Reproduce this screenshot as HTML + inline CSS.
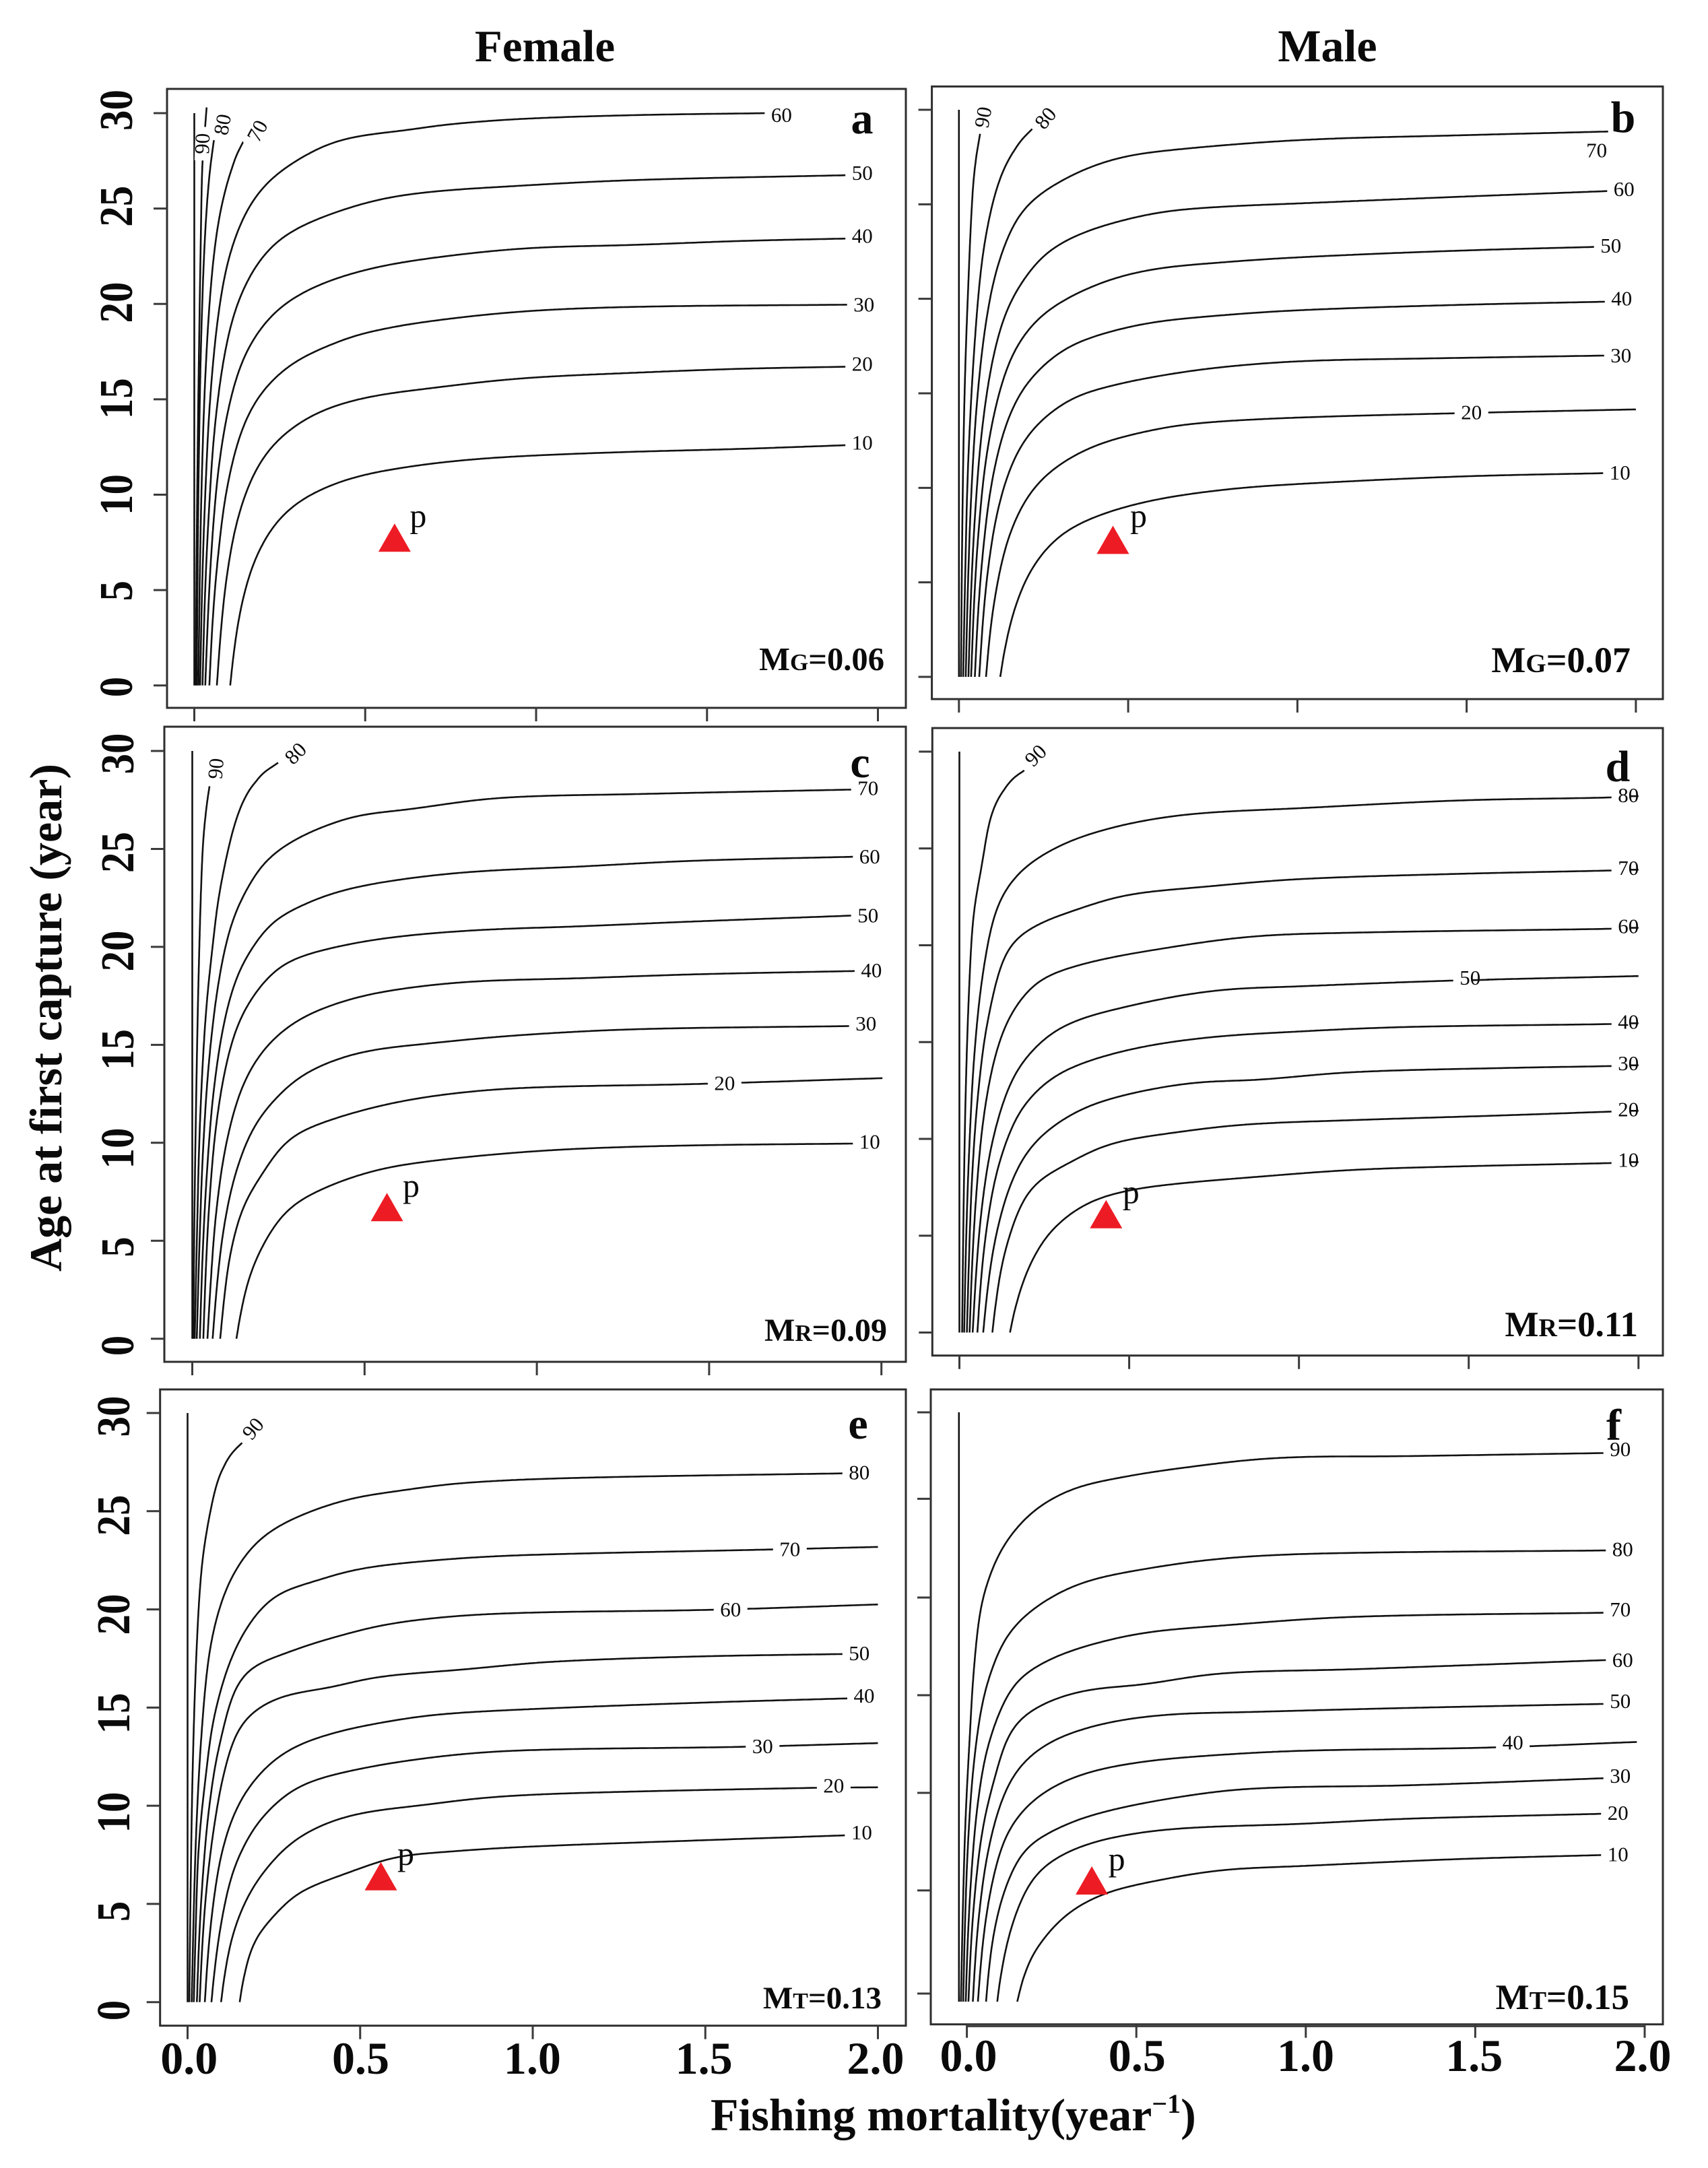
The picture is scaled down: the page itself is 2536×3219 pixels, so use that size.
<!DOCTYPE html>
<html lang="en">
<head>
<meta charset="utf-8">
<title>Yield contours by fishing mortality and age at first capture</title>
<style>
html,body{margin:0;padding:0;background:#fff;}
svg{display:block;}
text{font-family:"Liberation Serif",serif;fill:#0a0a0a;}
</style>
</head>
<body>
<svg id="chart" xmlns="http://www.w3.org/2000/svg" width="2536" height="3219" viewBox="0 0 2536 3219">
<rect x="0" y="0" width="2536" height="3219" fill="#fff"/>
<text x="809" y="91" font-size="67" font-weight="700" text-anchor="middle">Female</text>
<text x="1971" y="91" font-size="68" font-weight="700" text-anchor="middle">Male</text>
<text transform="translate(91,1511) rotate(-90)" font-size="68" font-weight="700" text-anchor="middle">Age at first capture (year)</text>
<text x="1055" y="3163" font-size="68" font-weight="700">Fishing mortality(year<tspan font-size="40" dy="-26">−1</tspan><tspan dy="26">)</tspan></text>
</svg>
<script>
/* ---------- shared axis values ---------- */
const xTickValues=[0,0.5,1,1.5,2];
const xTickLabels=["0.0","0.5","1.0","1.5","2.0"];
const yTickValues=[0,5,10,15,20,25,30];
const yTickLabels=["0","5","10","15","20","25","30"];
const fYTickValues=[0.41,5.66,10.63,15.6,20.57,25.6,30];
const contourLevels=[100,90,80,70,60,50,40,30,20,10];
const edgeLine=[[0,0],[0,30]];

/* ---------- panel a ---------- */
const a90=[[.004,0],[.0072,7.65],[.0116,14.85],[.0195,24],[.024,27.65],[.03,28.9],[.036,30.3]];
const a80=[[.007,0],[.0096,6.1],[.0133,11.9],[.0198,18],[.0308,23.4],[.0454,27],[.066,29.6]];
const a70=[[.012,0],[.016,5.6],[.022,10.9],[.033,16.5],[.051,21.45],[.075,24.75],[.114,27.4],[.143,28.5]];
const a60=[[.017,0],[.023,5.2],[.032,10],[.047,15.2],[.073,19.8],[.107,22.8],[.163,25.2],[.237,26.75],[.38,28.3],[.482,28.8],[.618,29.1],[.737,29.4],[.958,29.7],[1.297,29.9],[1.674,30]];
const a50=[[.024,0],[.031,4.6],[.042,8.9],[.06,13.55],[.091,17.6],[.132,20.3],[.2,22.5],[.288,23.85],[.482,25.2],[.652,25.8],[.958,26.2],[1.3,26.5],[1.917,26.75]];
const a40=[[.032,0],[.041,4],[.053,7.8],[.074,11.8],[.11,15.3],[.158,17.7],[.237,19.6],[.34,20.8],[.482,21.7],[.652,22.3],[.958,22.9],[1.3,23.1],[1.6,23.3],[1.917,23.43]];
const a30=[[.044,0],[.054,3.5],[.069,6.7],[.094,10.2],[.137,13.3],[.194,15.3],[.288,16.9],[.411,17.95],[.482,18.4],[.652,19],[.958,19.6],[1.3,19.85],[1.917,19.96]];
const a20=[[.066,0],[.078,2.9],[.094,5.6],[.124,8.55],[.174,11.1],[.24,12.8],[.349,14.2],[.491,15.05],[.7,15.6],[.96,16.1],[1.3,16.4],[1.6,16.6],[1.917,16.71]];
const a10=[[.105,0],[.119,2.21],[.139,4.29],[.175,6.5],[.235,8.45],[.315,9.75],[.447,10.8],[.618,11.44],[.85,11.9],[1.2,12.2],[1.6,12.4],[1.917,12.6]];
const aCurves=[edgeLine,a90,a80,a70,a60,a50,a40,a30,a20,a10];
const aLabels=[["90",.024,28.4],["80",.083,29.4],["70",.185,29.06],["60",1.718,29.9],["50",1.954,26.85],["40",1.954,23.55],["30",1.959,19.96],["20",1.954,16.84],["10",1.954,12.72]];
const aMarker=[.586,7.5];

/* ---------- panel b ---------- */
const b90=[[.006,0],[.01,8],[.016,14.5],[.026,20],[.044,26.55],[.063,28.8]];
const b80=[[.0125,0],[.019,5.8],[.027,11.2],[.044,17],[.068,22],[.099,25.05],[.13,26.8],[.17,28.1],[.22,29.05]];
const b70=[[.02,0],[.027,5.05],[.037,9.85],[.055,14.9],[.085,19.35],[.125,22.35],[.193,24.8],[.318,26.4],[.46,27.4],[.616,27.85],[1.009,28.4],[1.48,28.65],[1.918,28.85]];
const b60=[[.028,0],[.036,4.5],[.048,8.7],[.069,13.2],[.104,17.15],[.151,19.8],[.228,21.9],[.287,22.8],[.397,23.7],[.585,24.55],[.758,24.85],[1.009,25.05],[1.48,25.4],[1.918,25.7]];
const b50=[[.036,0],[.045,4],[.058,7.7],[.081,11.65],[.12,15.1],[.171,17.5],[.256,19.3],[.413,20.8],[.569,21.55],[.758,21.9],[1.009,22.2],[1.48,22.55],[1.887,22.75]];
const b40=[[.047,0],[.057,3.5],[.072,6.8],[.097,10.3],[.14,13.4],[.197,15.45],[.291,17.1],[.38,17.9],[.554,18.7],[.758,19.1],[1.009,19.4],[1.48,19.68],[1.918,19.85]];
const b30=[[.06,0],[.071,3],[.087,5.85],[.115,8.85],[.162,11.5],[.225,13.25],[.33,14.7],[.428,15.3],[.569,15.85],[.758,16.35],[1.009,16.7],[1.4,16.85],[1.918,17]];
const b20=[[.08,0],[.093,2.5],[.112,4.8],[.145,7.3],[.201,9.5],[.275,10.95],[.397,12.2],[.556,13],[.695,13.4],[.977,13.7],[1.48,13.95],[2,14.15]];
const b10=[[.122,0],[.14,1.9],[.166,3.7],[.212,5.65],[.289,7.35],[.392,8.4],[.561,9.3],[.782,9.9],[1,10.2],[1.48,10.6],[1.915,10.78]];
const bCurves=[edgeLine,b90,b80,b70,b60,b50,b40,b30,b20,b10];
const bLabels=[["90",.072,29.6],["80",.256,29.55],["70",1.884,27.85],["60",1.965,25.8],["50",1.926,22.8],["40",1.958,20],["30",1.956,17],["20",1.514,13.98],["10",1.953,10.8]];
const bMarker=[.455,7];

/* ---------- panel c ---------- */
const c90=[[.003,0],[.006,6],[.011,12],[.019,19],[.03,25],[.04,27],[.05,28.2]];
const c80=[[.007,0],[.014,5.6],[.022,10.9],[.039,16.5],[.062,20.5],[.081,23],[.131,26.75],[.182,28.5],[.249,29.4]];
const c70=[[.013,0],[.021,4.9],[.031,9.55],[.05,14.45],[.082,18.8],[.124,21.7],[.194,24],[.232,24.7],[.316,25.65],[.468,26.65],[.62,27],[.889,27.6],[1.293,27.8],[1.919,28.03]];
const c60=[[.022,0],[.03,4.3],[.042,8.35],[.062,12.65],[.096,16.45],[.142,19],[.217,21],[.249,21.5],[.384,22.6],[.535,23.25],[.788,23.8],[1.125,24.1],[1.461,24.4],[1.919,24.6]];
const c50=[[.032,0],[.04,3.8],[.051,7.35],[.071,11.15],[.105,14.5],[.149,16.7],[.222,18.5],[.283,19.3],[.418,20],[.586,20.5],[.822,20.85],[1.125,21.05],[1.461,21.3],[1.919,21.6]];
const c40=[[.044,0],[.055,3.3],[.069,6.4],[.096,9.75],[.141,12.7],[.2,14.6],[.283,16],[.384,16.9],[.535,17.65],[.788,18.2],[1.125,18.4],[1.461,18.6],[1.93,18.77]];
const c30=[[.059,0],[.072,2.8],[.09,5.5],[.123,8.3],[.178,10.8],[.249,12.4],[.333,13.6],[.485,14.6],[.704,15.1],[.956,15.5],[1.293,15.8],[1.919,15.96]];
const c20=[[.081,0],[.094,2.3],[.112,4.5],[.15,6.85],[.199,8.3],[.26,9.85],[.316,10.6],[.502,11.7],[.704,12.4],[.956,12.8],[1.461,13],[2.003,13.3]];
const c10=[[.128,0],[.146,1.8],[.17,3.4],[.218,5.2],[.283,6.7],[.384,7.7],[.502,8.45],[.62,8.9],[.872,9.4],[1.125,9.7],[1.461,9.87],[1.919,9.96]];
const cCurves=[edgeLine,c90,c80,c70,c60,c50,c40,c30,c20,c10];
const cLabels=[["90",.069,29.1],["80",.3,29.87],["70",1.961,28.1],["60",1.966,24.6],["50",1.961,21.6],["40",1.971,18.8],["30",1.955,16.07],["20",1.545,13.03],["10",1.966,10.04]];
const cMarker=[.565,6.48];

/* ---------- panel d ---------- */
const d90=[[.008,0],[.012,6],[.018,12],[.028,17.5],[.042,21.65],[.066,24.1],[.097,27],[.144,28.4],[.191,29.03]];
const d80=[[.014,0],[.02,4.9],[.029,9.5],[.044,14.35],[.07,18.65],[.113,22.09],[.175,23.75],[.253,24.75],[.347,25.53],[.504,26.3],[.691,26.79],[1.004,27.08],[1.473,27.48],[1.919,27.63],[2,27.7]];
const d70=[[.022,0],[.029,4.25],[.038,8.25],[.056,12.5],[.085,16.25],[.144,19.88],[.222,21],[.332,21.76],[.488,22.58],[.722,23.02],[1.004,23.42],[1.473,23.69],[1.919,23.86],[2,23.9]];
const d60=[[.03,0],[.038,3.7],[.05,7.2],[.07,10.95],[.104,14.2],[.15,16.4],[.22,18],[.269,18.5],[.378,19.1],[.535,19.65],[.848,20.43],[1.16,20.65],[1.919,20.85],[2,20.9]];
const d50=[[.039,0],[.05,3.25],[.065,6.3],[.093,9.55],[.139,12.4],[.191,14.1],[.3,15.78],[.504,16.88],[.754,17.66],[1.004,17.88],[1.442,18.17],[2,18.41]];
const d40=[[.053,0],[.064,2.8],[.081,5.5],[.11,8.3],[.159,10.8],[.206,12.1],[.3,13.45],[.488,14.56],[.722,15.22],[1.004,15.55],[1.317,15.78],[1.919,15.93],[2,15.97]];
const d30=[[.07,0],[.084,2.4],[.104,4.7],[.14,7.15],[.19,9.1],[.253,10.35],[.363,11.57],[.504,12.34],[.691,12.9],[.879,13.05],[1.16,13.45],[1.629,13.67],[1.919,13.76],[2,13.8]];
const d20=[[.097,0],[.11,1.9],[.13,3.9],[.175,6.36],[.222,7.69],[.316,8.69],[.441,9.73],[.644,10.35],[.848,10.75],[1.16,10.97],[1.629,11.23],[1.919,11.41],[2,11.45]];
const d10=[[.149,0],[.169,1.6],[.206,3.45],[.269,5.25],[.378,6.7],[.504,7.36],[.644,7.69],[.848,8],[1.16,8.4],[1.473,8.58],[1.919,8.75],[2,8.8]];
const dCurves=[edgeLine,d90,d80,d70,d60,d50,d40,d30,d20,d10];
const dLabels=[["90",.225,29.8],["80",1.97,27.74],["70",1.97,23.98],["60",1.97,20.98],["50",1.504,18.32],["40",1.97,16.04],["30",1.97,13.9],["20",1.97,11.52],["10",1.97,8.9]];
const dMarker=[.432,5.87];
const dTailCurves=[d80,d70,d60,d40,d30,d20,d10];
const dTailSpan=[1.973,2];
const dMidTailSpan=[1.51,1.56];

/* ---------- panel e ---------- */
const e90=[[.005,0],[.009,6],[.015,12],[.025,17.5],[.04,22],[.061,24.55],[.094,27],[.125,27.9],[.158,28.48]];
const e80=[[.012,0],[.018,4.7],[.026,9.1],[.041,13.8],[.064,17.9],[.1,20.5],[.145,22.19],[.212,23.63],[.313,24.68],[.464,25.6],[.598,26],[.8,26.44],[1.136,26.7],[1.913,26.93]];
const e70=[[.018,0],[.024,4],[.032,7.85],[.052,11.4],[.08,14.8],[.145,18.25],[.245,20.6],[.363,21.4],[.497,22.06],[.716,22.5],[.968,22.76],[1.691,23.05],[2,23.18]];
const e60=[[.027,0],[.034,3.4],[.045,6.6],[.063,10],[.095,13.3],[.161,16.68],[.279,17.73],[.413,18.52],[.598,19.3],[.884,19.77],[1.523,19.98],[2,20.25]];
const e50=[[.035,0],[.043,3],[.055,5.8],[.076,8.85],[.11,12],[.161,14.3],[.262,15.5],[.413,16.02],[.548,16.55],[.8,16.94],[1.052,17.33],[1.472,17.6],[1.913,17.73]];
const e40=[[.05,0],[.06,2.6],[.075,5.1],[.1,7.7],[.145,10],[.212,11.7],[.296,12.88],[.413,13.66],[.548,14.19],[.716,14.63],[.968,14.9],[1.472,15.24],[1.918,15.47]];
const e30=[[.069,0],[.082,2.2],[.1,4.3],[.13,6.6],[.17,8.2],[.212,9.34],[.313,10.9],[.464,11.75],[.716,12.48],[.968,12.82],[1.607,13],[2,13.19]];
const e20=[[.097,0],[.11,1.7],[.13,3.4],[.165,5.05],[.212,6.45],[.313,8.29],[.464,9.47],[.699,10.07],[.884,10.44],[1.136,10.65],[1.808,10.91],[2,10.94]];
const e10=[[.151,0],[.16,1],[.178,2.4],[.205,3.5],[.262,4.6],[.296,5.27],[.346,5.8],[.464,6.58],[.598,7.37],[.733,7.63],[.968,7.9],[1.472,8.23],[1.918,8.5]];
const eCurves=[edgeLine,e90,e80,e70,e60,e50,e40,e30,e20,e10];
const eLabels=[["90",.19,29.2],["80",1.946,26.96],["70",1.745,23.05],["60",1.573,19.98],["50",1.946,17.75],["40",1.96,15.6],["30",1.666,13.03],["20",1.872,11.01],["10",1.953,8.63]];
const eMarker=[.56,6.17];

/* ---------- panel f ---------- */
const f90=[[.006,0],[.012,5],[.02,9.5],[.032,13.5],[.044,16.9],[.067,20.3],[.107,22.4],[.146,23.6],[.224,25.05],[.334,26.1],[.443,26.57],[.615,27.07],[.929,27.67],[1.32,27.77],[1.912,27.93]];
const f80=[[.0125,0],[.018,4],[.026,7.8],[.042,11.8],[.07,15.3],[.105,17.3],[.146,18.75],[.224,20.06],[.349,21.24],[.506,21.9],[.772,22.55],[1.085,22.82],[1.912,22.97]];
const f70=[[.02,0],[.027,3.5],[.038,6.8],[.057,10.3],[.09,13.3],[.161,16.13],[.24,17.18],[.349,17.97],[.537,18.75],[.772,19.14],[1.164,19.59],[1.912,19.8]];
const f60=[[.028,0],[.036,3],[.048,5.7],[.069,8.7],[.104,11.3],[.161,14.03],[.255,15.21],[.381,15.87],[.537,16.13],[.772,16.71],[1.164,16.92],[1.912,17.39]];
const f50=[[.041,0],[.05,2.6],[.063,5],[.085,7.6],[.125,10.2],[.177,11.93],[.271,13.24],[.428,14.16],[.616,14.61],[.85,14.74],[1.32,14.95],[1.912,15.16]];
const f40=[[.056,0],[.066,2.2],[.08,4.3],[.105,6.6],[.14,8.5],[.193,9.83],[.271,10.88],[.381,11.67],[.537,12.2],[.725,12.51],[1.007,12.77],[1.555,12.93],[2,13.22]];
const f30=[[.08,0],[.09,1.9],[.105,3.7],[.135,5.7],[.193,7.74],[.271,8.65],[.381,9.44],[.584,10.23],[.85,10.83],[1.32,11.01],[1.912,11.38]];
const f20=[[.113,0],[.125,1.5],[.145,3.2],[.177,4.9],[.224,6.43],[.302,7.47],[.428,8.26],[.632,8.79],[1.007,9.05],[1.32,9.31],[1.912,9.57]];
const f10=[[.172,0],[.185,.9],[.205,2],[.24,3],[.318,4.46],[.428,5.5],[.569,6.11],[.772,6.69],[1.007,6.9],[1.477,7.26],[1.912,7.47]];
const fCurves=[edgeLine,f90,f80,f70,f60,f50,f40,f30,f20,f10];
const fLabels=[["90",1.951,28.11],["80",1.958,23.03],["70",1.951,19.96],["60",1.958,17.39],["50",1.951,15.29],["40",1.634,13.19],["30",1.951,11.49],["20",1.944,9.6],["10",1.944,7.5]];
const fMarker=[.392,5.93];

/* ---------- panel layouts (pixels only, no data) ---------- */
const panels=[
 {id:'a',curves:aCurves,labels:aLabels,marker:aMarker,frame:[248,132,1345,1051],px:[288.5,1303.5],py:[1017.7,168],tpx:[288.5,1303.5],yVals:yTickValues,rot:{'90':-88,'80':-80,'70':-62},
  letterPos:[1280,198],mBase:'M',mSub:'G',mRest:'=0.06',mPos:[1313,995],mSize:48.6,yLabelX:196,yLabelPos:[1020,163.5],xLabels:false,pOff:[35,-23]},
 {id:'b',curves:bCurves,labels:bLabels,marker:bMarker,frame:[1383.6,128.4,2469,1038],px:[1423.8,2428.9],py:[1005,163],tpx:[1423.8,2428.9],yVals:yTickValues,rot:{'90':-80,'80':-50},
  letterPos:[2410,196],mBase:'M',mSub:'G',mRest:'=0.07',mPos:[2421,998],mSize:54,yLabelX:0,xLabels:false,pOff:[38,-26]},
 {id:'c',curves:cCurves,labels:cLabels,marker:cMarker,frame:[244,1079,1345,2022],px:[285.5,1308.7],py:[1987.7,1115],tpx:[285.5,1308.7],yVals:yTickValues,rot:{'90':-85,'80':-45},
  letterPos:[1277,1154],mBase:'M',mSub:'R',mRest:'=0.09',mPos:[1317,1991],mSize:48,yLabelX:198,yLabelPos:[1998,1119],xLabels:false,pOff:[36,-22]},
 {id:'d',curves:dCurves,labels:dLabels,marker:dMarker,frame:[1384.3,1081,2469,2012.7],px:[1424.5,2432.8],py:[1978.5,1116],tpx:[1424.5,2432.8],yVals:yTickValues,rot:{'90':-45},
  letterPos:[2402,1160],mBase:'M',mSub:'R',mRest:'=0.11',mPos:[2432,1984],mSize:53,yLabelX:0,xLabels:false,pOff:[37,-23]},
 {id:'e',curves:eCurves,labels:eLabels,marker:eMarker,frame:[237.7,2063,1345,3007.7],px:[278.5,1303.5],py:[2972.7,2098],tpx:[278.5,1303.5],yVals:yTickValues,rot:{'90':-50},
  letterPos:[1274,2136],mBase:'M',mSub:'T',mRest:'=0.13',mPos:[1309,2982],mSize:47,yLabelX:192,yLabelPos:[2985,2103],xLabels:true,xLabelY:3079,lpx:[280.7,1300],pOff:[37,-24]},
 {id:'f',curves:fCurves,labels:fLabels,marker:fMarker,frame:[1382,2063,2469,3005.7],px:[1423.8,2430.4],py:[2972,2097],tpx:[1435.6,2442],yVals:fYTickValues,rot:{},
  letterPos:[2396,2138],mBase:'M',mSub:'T',mRest:'=0.15',mPos:[2419,2983],mSize:53,yLabelX:0,xLabels:true,xLabelY:3075,lpx:[1438,2439],axisLineY:3008,pOff:[37,-22]}
];

const SVGNS='http://www.w3.org/2000/svg';
const root=document.getElementById('chart');
const SMOOTH_STEP=3;
const SMOOTH_HALF=15;
function mk(tag,attrs,parent){
  const el=document.createElementNS(SVGNS,tag);
  for(const k in attrs){el.setAttribute(k,attrs[k]);}
  parent.appendChild(el);
  return el;
}
function denseSpline(pts){
  const tan=[],out=[pts[0]];
  for(let i=0;i<pts.length;i++){
    const a=pts[Math.max(0,i-1)],b=pts[Math.min(pts.length-1,i+1)];
    const dx=b[0]-a[0],dy=b[1]-a[1],n=Math.hypot(dx,dy)||1;
    tan.push([dx/n,dy/n]);
  }
  for(let i=0;i<pts.length-1;i++){
    const p=pts[i],q=pts[i+1],L=Math.hypot(q[0]-p[0],q[1]-p[1])/3;
    const c1=[p[0]+tan[i][0]*L,p[1]+tan[i][1]*L],c2=[q[0]-tan[i+1][0]*L,q[1]-tan[i+1][1]*L];
    for(let k=1;k<=14;k++){
      const t=k/14,u=1-t;
      out.push([u*u*u*p[0]+3*u*u*t*c1[0]+3*u*t*t*c2[0]+t*t*t*q[0],u*u*u*p[1]+3*u*u*t*c1[1]+3*u*t*t*c2[1]+t*t*t*q[1]]);
    }
  }
  return out;
}
function resample(line,step){
  const out=[line[0]];
  let need=step;
  for(let i=1;i<line.length;i++){
    let a=line[i-1];const b=line[i];
    let seg=Math.hypot(b[0]-a[0],b[1]-a[1]);
    while(seg>=need&&seg>0){
      const t=need/seg;
      a=[a[0]+(b[0]-a[0])*t,a[1]+(b[1]-a[1])*t];
      out.push(a);
      seg=Math.hypot(b[0]-a[0],b[1]-a[1]);
      need=step;
    }
    need-=seg;
  }
  out.push(line[line.length-1]);
  return out;
}
function smoothLine(line,half){
  const n=line.length,out=[];
  for(let i=0;i<n;i++){
    const w=Math.min(half,i,n-1-i);
    let sx=0,sy=0,sw=0;
    for(let j=-w;j<=w;j++){
      const wt=w+1-Math.abs(j);
      sx+=line[i+j][0]*wt;sy+=line[i+j][1]*wt;sw+=wt;
    }
    out.push([sx/sw,sy/sw]);
  }
  return out;
}
function curvePath(pts){
  const line=smoothLine(resample(denseSpline(pts),SMOOTH_STEP),SMOOTH_HALF);
  return 'M'+line.map(function(p){return p[0].toFixed(1)+' '+p[1].toFixed(1);}).join('L');
}
function ageAt(curve,F){
  for(let i=0;i<curve.length-1;i++){
    if(F>=curve[i][0]&&F<=curve[i+1][0]){
      const t=(F-curve[i][0])/((curve[i+1][0]-curve[i][0])||1);
      return curve[i][1]+t*(curve[i+1][1]-curve[i][1]);
    }
  }
  return curve[curve.length-1][1];
}

panels.forEach(function(P){
  const x=function(F){return P.px[0]+(P.px[1]-P.px[0])*F/2;};
  const y=function(A){return P.py[0]+(P.py[1]-P.py[0])*A/30;};
  const tx=function(F){return P.tpx[0]+(P.tpx[1]-P.tpx[0])*F/2;};
  const lx=function(F){return P.lpx[0]+(P.lpx[1]-P.lpx[0])*F/2;};
  const ly=function(A){return P.yLabelPos[0]+(P.yLabelPos[1]-P.yLabelPos[0])*A/30;};
  const g=mk('g',{},root);
  
  

  const fr=mk('rect',{x:P.frame[0],y:P.frame[1],width:P.frame[2]-P.frame[0],height:P.frame[3]-P.frame[1],fill:'none',stroke:'#2e2e2e','stroke-width':3},g);
  
  

  if(P.axisLineY){
    const ax=mk('line',{x1:tx(0),x2:tx(2),y1:P.axisLineY,y2:P.axisLineY,stroke:'#444','stroke-width':4},g);
    
    
  }

  xTickValues.forEach(function(v,i){
    const t=mk('line',{x1:tx(v),x2:tx(v),y1:P.frame[3],y2:P.frame[3]+20,stroke:'#3a3a3a','stroke-width':3},g);
    
    
    if(P.xLabels){
      const lb=mk('text',{x:lx(v),y:P.xLabelY,'font-size':68,'font-weight':700,'text-anchor':'middle'},g);
      lb.textContent=xTickLabels[i];
      
      
    }
  });
  P.yVals.forEach(function(v,i){
    const yy=y(v);
    const t=mk('line',{x1:P.frame[0]-20,x2:P.frame[0],y1:yy,y2:yy,stroke:'#3a3a3a','stroke-width':3},g);
    
    
    if(P.yLabelX){
      const lb=mk('text',{transform:'translate('+P.yLabelX+','+ly(v).toFixed(1)+') rotate(-90) scale(1,1.15)','font-size':61,'font-weight':700,'text-anchor':'middle'},g);
      lb.textContent=yTickLabels[i];
      
      
    }
  });

  P.curves.forEach(function(c,i){
    const pts=c.map(function(p){return [x(p[0]),y(p[1])];});
    const path=mk('path',{d:curvePath(pts),fill:'none',stroke:'#111','stroke-width':2.6,'stroke-linejoin':'round'},g);
    
    
  });

  P.labels.forEach(function(L){
    const rot=P.rot[L[0]]||0;
    const lg=mk('g',{transform:'translate('+x(L[1]).toFixed(1)+','+y(L[2]).toFixed(1)+') rotate('+rot+')'},g);
    
    
    mk('rect',{x:-25,y:-11,width:50,height:22,fill:'#fff'},lg);
    const t=mk('text',{x:0,y:10,'font-size':31,'text-anchor':'middle'},lg);
    t.textContent=L[0];
  });

  if(P.id==='d'){
    dTailCurves.forEach(function(c){
      const a=c[c.length-1][1];
      const s=mk('line',{x1:x(dTailSpan[0]),x2:x(dTailSpan[1]),y1:y(a),y2:y(a),stroke:'#111','stroke-width':2.6},g);
      
      
    });
    const m=mk('line',{x1:x(dMidTailSpan[0]),x2:x(dMidTailSpan[1]),y1:y(ageAt(d50,dMidTailSpan[0])),y2:y(ageAt(d50,dMidTailSpan[1])),stroke:'#111','stroke-width':2.6},g);
    
    
  }

  const cx=x(P.marker[0]),cy=y(P.marker[1]);
  const tri=mk('polygon',{points:(cx-24)+','+(cy+14)+' '+(cx+24)+','+(cy+14)+' '+cx+','+(cy-28),fill:'#ed1c24'},g);
  
  
  const pt=mk('text',{x:cx+P.pOff[0],y:cy+P.pOff[1],'font-size':50,'text-anchor':'middle'},g);
  pt.textContent='p';
  
  

  const lt=mk('text',{x:P.letterPos[0],y:P.letterPos[1],'font-size':66,'font-weight':700,'text-anchor':'middle'},g);
  lt.textContent=P.id;
  
  

  const mt=mk('text',{x:P.mPos[0],y:P.mPos[1],'font-size':P.mSize,'font-weight':700,'text-anchor':'end'},g);
  
  
  const s1=mk('tspan',{},mt);s1.textContent=P.mBase;
  const s2=mk('tspan',{'font-size':Math.round(P.mSize*0.72)},mt);s2.textContent=P.mSub;
  const s3=mk('tspan',{},mt);s3.textContent=P.mRest;
});
</script>
</body>
</html>
